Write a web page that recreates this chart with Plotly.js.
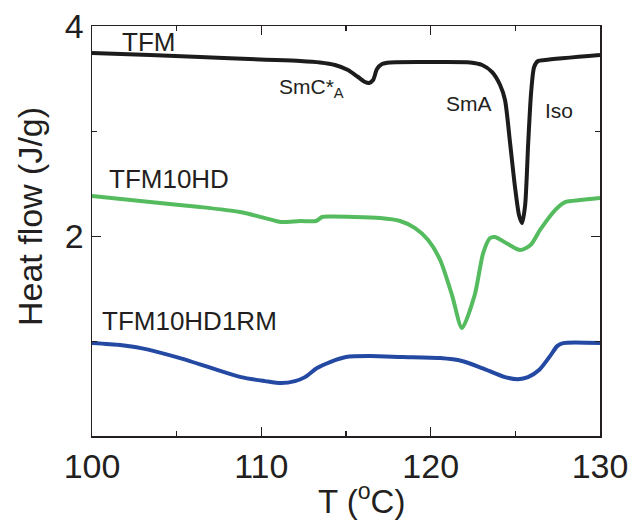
<!DOCTYPE html>
<html>
<head>
<meta charset="utf-8">
<script src="https://cdn.plot.ly/plotly-3.0.1.min.js"></script>
<style>html,body{margin:0;padding:0;background:#fff;}#chart{width:632px;height:522px;}</style>
</head>
<body>
<div id="chart"></div>
<script>
// TFM (black)
var tfmT = [100, 103.43, 106.38, 109.92, 112.29, 113.47, 114.35, 115.12, 115.71, 116.13, 116.36, 116.6, 116.83, 117.13, 117.6, 119.96, 122.33, 123.04, 123.63, 124.1, 124.39, 124.69, 124.98, 125.22, 125.4, 125.58, 125.76, 125.93, 126.11, 126.34, 126.76, 130];
var tfmH = [3.743, 3.724, 3.705, 3.681, 3.667, 3.653, 3.629, 3.581, 3.515, 3.467, 3.458, 3.486, 3.591, 3.638, 3.653, 3.657, 3.653, 3.629, 3.562, 3.439, 3.296, 2.887, 2.468, 2.2, 2.126, 2.297, 2.887, 3.363, 3.61, 3.667, 3.677, 3.724];
// TFM10HD (green)
var hdT = [100, 103.43, 106.38, 108.74, 110.22, 111.16, 112.29, 113.23, 113.59, 114.06, 117.01, 118.19, 119.08, 119.85, 120.56, 121.26, 121.85, 122.6, 123.1, 123.51, 123.8, 125.28, 125.9, 126.46, 127.35, 127.94, 128.82, 130];
var hdH = [2.382, 2.325, 2.278, 2.23, 2.173, 2.135, 2.145, 2.145, 2.183, 2.188, 2.173, 2.145, 2.078, 1.964, 1.774, 1.441, 1.127, 1.441, 1.84, 1.983, 1.993, 1.869, 1.916, 2.06, 2.249, 2.325, 2.344, 2.363];
// TFM10HD1RM (blue)
var rmT = [100, 101.65, 102.89, 105.2, 108.8, 110.22, 111.16, 111.99, 112.58, 113.29, 114.06, 115.0, 116.42, 118.31, 120.56, 121.85, 123.04, 124.39, 125.16, 125.75, 126.4, 127.05, 127.47, 127.82, 130];
var rmH = [0.984, 0.965, 0.936, 0.841, 0.66, 0.622, 0.603, 0.622, 0.66, 0.746, 0.803, 0.851, 0.86, 0.851, 0.841, 0.813, 0.746, 0.66, 0.641, 0.66, 0.727, 0.86, 0.955, 0.984, 0.984];

var xTickVals = [100, 110, 120, 130];
var xTickText = ['100', '110', '120', '130'];
var yTickVals = [2, 4];
var yTickText = ['2', '4'];

var FONT = 'Liberation Sans, Arial, Helvetica, sans-serif';
var INK = '#231f20';

function tr(x, y, color) {
  return {x: x, y: y, type: 'scatter', mode: 'lines',
    line: {color: color, width: 4, shape: 'spline', smoothing: 0.7},
    hoverinfo: 'skip', showlegend: false};
}

var data = [
  tr(tfmT, tfmH, '#1c1c1c'),
  tr(hdT, hdH, '#55bb5f'),
  tr(rmT, rmH, '#2449a3')
];

function ann(text, x, y, size, extra) {
  var a = {text: text, x: x, y: y, xref: 'x', yref: 'y', showarrow: false,
    font: {family: FONT, size: size, color: INK}, xanchor: 'center', yanchor: 'middle'};
  for (var k in extra) a[k] = extra[k];
  return a;
}

var layout = {
  width: 632, height: 522,
  margin: {l: 92, r: 32, t: 26, b: 86},
  paper_bgcolor: '#fff', plot_bgcolor: '#fff',
  font: {family: FONT, color: INK},
  xaxis: {
    range: [100, 130], tickvals: xTickVals, ticktext: xTickText,
    ticks: 'inside', ticklen: 9, tickwidth: 1.2, tickcolor: INK,
    minor: {dtick: 5, ticks: 'inside', ticklen: 5, tickwidth: 1.2, tickcolor: INK},
    showline: true, linecolor: INK, linewidth: 1.5, mirror: 'ticks',
    showgrid: false, zeroline: false,
    tickfont: {family: FONT, size: 34, color: INK}
  },
  yaxis: {
    range: [0.1, 4], tickvals: yTickVals, ticktext: yTickText,
    ticks: 'inside', ticklen: 9, tickwidth: 1.2, tickcolor: INK,
    minor: {dtick: 1, ticks: 'inside', ticklen: 5, tickwidth: 1.2, tickcolor: INK},
    showline: true, linecolor: INK, linewidth: 1.5, mirror: 'ticks',
    showgrid: false, zeroline: false,
    tickfont: {family: FONT, size: 34, color: INK}
  },
  annotations: [
    ann('TFM', 103.34, 3.848, 26),
    ann('TFM10HD', 104.55, 2.54, 26),
    ann('TFM10HD1RM', 105.73, 1.19, 26),
    ann('SmC*<sub>A</sub>', 110.9, 3.41, 21, {xanchor: 'left'}),
    ann('SmA', 122.27, 3.263, 21),
    ann('Iso', 127.55, 3.196, 21),
    {text: 'Heat flow (J/g)', xref: 'paper', yref: 'paper', x: -0.122, y: 0.534,
      textangle: -90, showarrow: false, xanchor: 'center', yanchor: 'middle',
      font: {family: FONT, size: 34, color: INK}},
    {text: 'T (<sup>o</sup>C)', xref: 'paper', yref: 'paper', x: (361 - 92) / 508, y: (436 - 499) / 410,
      showarrow: false, xanchor: 'center', yanchor: 'middle',
      font: {family: FONT, size: 33, color: INK}}
  ]
};

Plotly.newPlot('chart', data, layout, {staticPlot: true, displayModeBar: false});
</script>
</body>
</html>
